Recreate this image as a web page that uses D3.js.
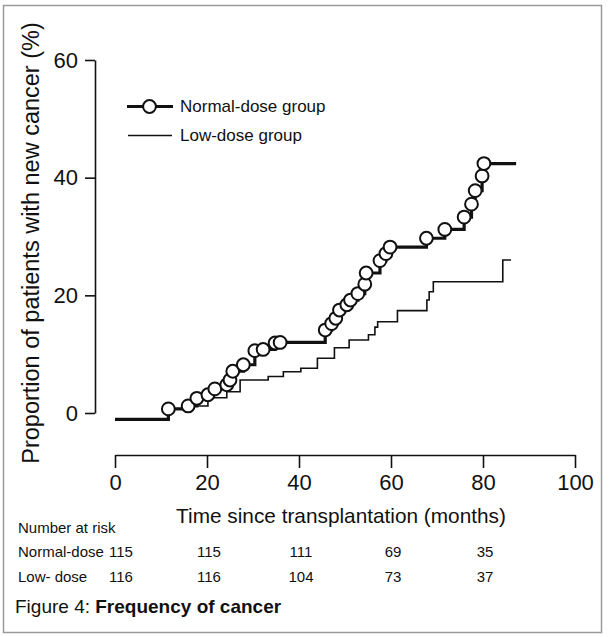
<!DOCTYPE html>
<html>
<head>
<meta charset="utf-8">
<script src="https://cdn.jsdelivr.net/npm/d3@7"></script>
<style>
  html, body { margin: 0; padding: 0; background: #fff; }
  svg { display: block; font-family: "Liberation Sans", Arial, sans-serif; }
</style>
</head>
<body>
<svg id="chart" width="610" height="637"></svg>
<script>
// Cumulative cancer incidence after transplantation, by ciclosporin dose group.
const xTicks = [0, 20, 40, 60, 80, 100];
const yTicks = [0, 20, 40, 60];

const startValue = -1.1;

// Normal-dose group: event times (months) and cumulative proportion (%)
const normalTimes  = [11.6, 15.9, 17.8, 20.2, 21.7, 24.3, 25.0, 25.6, 27.9, 30.4, 32.2, 34.8, 35.9,
                      45.7, 47.1, 48.0, 48.8, 50.4, 51.2, 52.8, 54.3, 54.6, 57.6, 58.9, 59.8,
                      67.7, 71.7, 75.9, 77.5, 78.3, 79.8, 80.2];
const normalValues = [0.7, 1.2, 2.5, 3.1, 4.1, 4.8, 5.6, 7.1, 8.2, 10.6, 10.8, 11.9, 12.0,
                      14.1, 15.2, 16.1, 17.5, 18.4, 19.2, 20.3, 21.9, 23.8, 25.9, 27.1, 28.2,
                      29.7, 31.2, 33.3, 35.5, 37.8, 40.3, 42.4];
const normalEnd = 87.2;

// Low-dose group
const lowTimes  = [11.6, 15.9, 20.2, 24.3, 27.2, 33.3, 36.6, 40.4, 44.0, 47.7, 50.9, 55.1, 56.5, 57.1,
                   61.4, 67.8, 68.3, 69.2, 84.3];
const lowValues = [0.7, 1.2, 2.6, 3.6, 5.6, 6.2, 7.0, 7.6, 9.3, 11.1, 12.4, 13.3, 14.6, 15.5,
                   17.4, 19.2, 20.6, 22.3, 26.0];
const lowEnd = 86.1;

// Number at risk
const riskTimes  = [0, 20, 40, 60, 80];
const riskNormal = [115, 115, 111, 69, 35];
const riskLow    = [116, 116, 104, 73, 37];

const seriesNames = ["Normal-dose group", "Low-dose group"];

const svg = d3.select("#chart");
const ink = "#111";

// frame around the figure
svg.append("rect")
  .attr("x", 3.5).attr("y", 5.5).attr("width", 598).attr("height", 627)
  .attr("fill", "none").attr("stroke", "#9a9a9a").attr("stroke-width", 1.5);

const x = d3.scaleLinear().domain([0, 100]).range([115, 575]);
const y = d3.scaleLinear().domain([0, 60]).range([413, 60]);

// x axis
const gx = svg.append("g").attr("transform", "translate(0,455)")
  .call(d3.axisBottom(x).tickValues(xTicks).tickSize(13).tickSizeOuter(0).tickPadding(6));
gx.selectAll("text").attr("font-size", 22).attr("fill", ink).attr("font-family", null);

// y axis (drawn offset to the left of the plot)
const gy = svg.append("g").attr("transform", "translate(95,0)")
  .call(d3.axisLeft(y).tickValues(yTicks).tickSize(10).tickSizeOuter(0).tickPadding(7));
gy.selectAll("text").attr("font-size", 22).attr("fill", ink).attr("font-family", null);

[gx, gy].forEach(g => {
  g.select(".domain").attr("stroke", ink).attr("stroke-width", 1.6);
  g.selectAll(".tick line").attr("stroke", ink).attr("stroke-width", 1.6);
});

// axis titles
svg.append("text")
  .attr("x", 341).attr("y", 523)
  .attr("text-anchor", "middle").attr("font-size", 20.8).attr("fill", ink)
  .text("Time since transplantation (months)");

svg.append("text")
  .attr("transform", "translate(39,243) rotate(-90)")
  .attr("text-anchor", "middle").attr("font-size", 23.5).attr("fill", ink)
  .text("Proportion of patients with new cancer (%)");

// step curves
const stepLine = d3.line()
  .x(d => x(d[0])).y(d => y(d[1]))
  .curve(d3.curveStepAfter);

function stepPoints(times, values, end) {
  const pts = [[0, startValue]];
  times.forEach((t, i) => pts.push([t, values[i]]));
  pts.push([end, values[values.length - 1]]);
  return pts;
}

svg.append("path")
  .attr("d", stepLine(stepPoints(lowTimes, lowValues, lowEnd)))
  .attr("fill", "none").attr("stroke", ink).attr("stroke-width", 1.6);

svg.append("path")
  .attr("d", stepLine(stepPoints(normalTimes, normalValues, normalEnd)))
  .attr("fill", "none").attr("stroke", ink).attr("stroke-width", 3.2);

svg.append("g").selectAll("circle")
  .data(normalTimes.map((t, i) => [t, normalValues[i]]))
  .join("circle")
  .attr("cx", d => x(d[0])).attr("cy", d => y(d[1]))
  .attr("r", 6.4)
  .attr("fill", "#fff").attr("stroke", ink).attr("stroke-width", 2);

// legend
const legend = svg.append("g");
legend.append("line").attr("x1", 127).attr("x2", 173).attr("y1", 106.5).attr("y2", 106.5)
  .attr("stroke", ink).attr("stroke-width", 3.2);
legend.append("circle").attr("cx", 149.5).attr("cy", 106.5).attr("r", 6.4)
  .attr("fill", "#fff").attr("stroke", ink).attr("stroke-width", 2);
legend.append("line").attr("x1", 128).attr("x2", 172).attr("y1", 135.5).attr("y2", 135.5)
  .attr("stroke", ink).attr("stroke-width", 1.6);
legend.selectAll("text")
  .data(seriesNames)
  .join("text")
  .attr("x", 180).attr("y", (d, i) => 112 + i * 29)
  .attr("font-size", 17).attr("fill", ink)
  .text(d => d);

// number at risk table
svg.append("text").attr("x", 18).attr("y", 533)
  .attr("font-size", 15).attr("fill", ink).text("Number at risk");

const rows = [
  { label: "Normal-dose", values: riskNormal, y: 557 },
  { label: "Low- dose", values: riskLow, y: 582 }
];
rows.forEach(r => {
  svg.append("text").attr("x", 18).attr("y", r.y)
    .attr("font-size", 15).attr("fill", ink).text(r.label);
  svg.append("g").selectAll("text")
    .data(riskTimes.map((t, i) => [t, r.values[i]]))
    .join("text")
    .attr("x", (d, i) => x(d[0]) + (i === 0 ? 6 : 2))
    .attr("y", r.y)
    .attr("text-anchor", "middle")
    .attr("font-size", 15).attr("fill", ink)
    .text(d => d[1]);
});

// caption
const cap = svg.append("text").attr("x", 15).attr("y", 613)
  .attr("font-size", 19).attr("fill", ink);
cap.append("tspan").text("Figure 4: ");
cap.append("tspan").attr("font-weight", "bold").text("Frequency of cancer");
</script>
</body>
</html>
